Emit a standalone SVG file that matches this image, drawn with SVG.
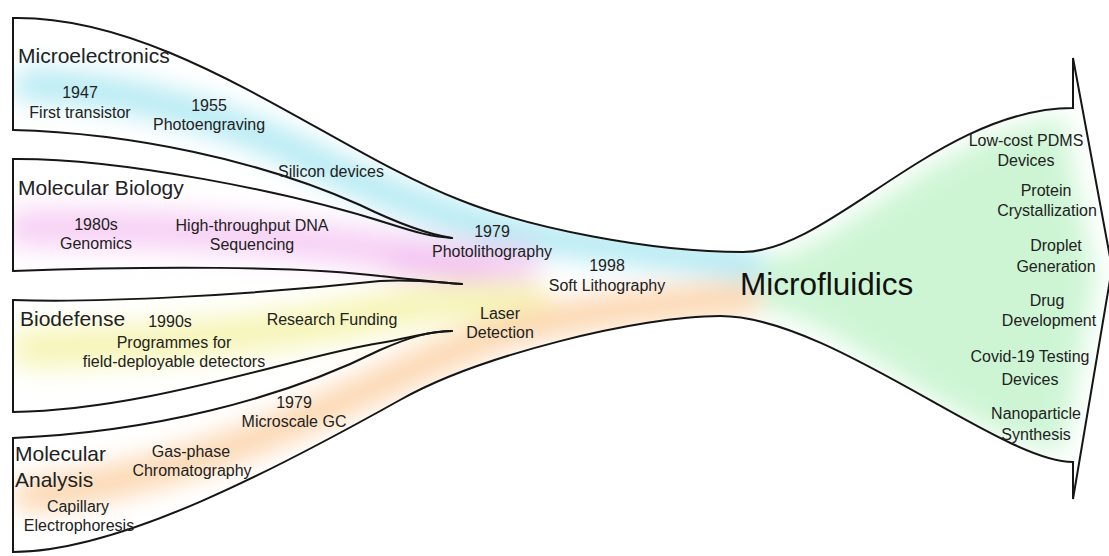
<svg xmlns="http://www.w3.org/2000/svg" width="1109" height="556" viewBox="0 0 1109 556">
<style>
  .ln{fill:none;stroke:#161616;stroke-width:2;stroke-linejoin:miter;stroke-linecap:round}
  text{font-family:"Liberation Sans",Arial,sans-serif;fill:#222}
  .t{font-size:21px}
  .s{font-size:16px;text-anchor:middle}
  .big{font-size:31.5px;fill:#111}
</style>
<defs>
  <filter id="blur" filterUnits="userSpaceOnUse" x="0" y="0" width="1109" height="556">
    <feGaussianBlur stdDeviation="13"/>
  </filter>
  <clipPath id="outer">
    <path d="M13,18 C170,15 330,150 460,200 C530,228 650,252 743,252 C830,252 940,108 1073,108 L1073,58 L1112,268 L1073,499 L1073,462 C1000,462 830,316 720,316 C640,316 480,355 400,400 C280,467 120,552 13,552 Z"/>
  </clipPath>
</defs>
<rect width="1109" height="556" fill="#ffffff"/>
<g id="colours" clip-path="url(#outer)">
  <g filter="url(#blur)" fill="none" stroke-linecap="round">
    <path d="M770,268 C850,255 930,150 1055,128 L1085,280 L1055,440 C950,420 860,320 770,300 Z" fill="#cdf5d4" stroke="#cdf5d4" stroke-width="20"/>
    <path d="M30,85 C120,88 230,115 330,168 C400,200 470,228 560,240 C620,248 680,254 750,265" stroke="#b4eaf3" stroke-width="32"/>
    <path d="M25,228 C150,226 300,236 400,254 C440,260 470,264 520,264" stroke="#f7d0f5" stroke-width="38"/>
    <path d="M400,262 C430,264 455,268 480,270" stroke="#f2bff1" stroke-width="24"/>
    <path d="M30,348 C150,346 300,332 400,308 C440,299 480,300 530,302" stroke="#f6f5b8" stroke-width="40"/>
    <path d="M30,495 C120,486 220,455 300,420 C380,385 440,352 520,328 C600,308 680,302 745,298" stroke="#fcd6ae" stroke-width="32"/>
  </g>
</g>
<g id="connectors">
  <path class="ln" d="M13,130 C130,133 260,160 360,205 C395,222 425,234 452,238"/>
  <path class="ln" d="M13,159 C120,158 290,192 390,224 C415,232 432,237 452,238"/>
  <path class="ln" d="M13,271 C150,266 300,266 380,276 C420,280 440,283 462,284"/>
  <path class="ln" d="M13,300 C100,303 250,295 380,281 C420,279 440,283 462,284"/>
  <path class="ln" d="M13,412 C150,410 300,355 380,343 C410,338 430,331 452,331"/>
  <path class="ln" d="M13,438 C150,432 280,400 380,350 C410,337 430,331 452,331"/>
</g>
<g id="microfluidics">
  <path class="ln" d="M13,130 L13,18 C170,15 330,150 460,200 C530,228 650,252 743,252 C830,252 940,108 1073,108 L1073,58 L1112,268 L1073,499 L1073,462 C1000,462 830,316 720,316 C640,316 480,355 400,400 C280,467 120,552 13,552 L13,438"/>
  <text class="big" x="740" y="295">Microfluidics</text>
  <text class="s" x="1026" y="146">Low-cost PDMS</text>
  <text class="s" x="1026" y="166">Devices</text>
  <text class="s" x="1046" y="196">Protein</text>
  <text class="s" x="1047" y="216">Crystallization</text>
  <text class="s" x="1056" y="251">Droplet</text>
  <text class="s" x="1056" y="272">Generation</text>
  <text class="s" x="1047" y="306">Drug</text>
  <text class="s" x="1049" y="326">Development</text>
  <text class="s" x="1030" y="362">Covid-19 Testing</text>
  <text class="s" x="1030" y="385">Devices</text>
  <text class="s" x="1036" y="419">Nanoparticle</text>
  <text class="s" x="1036" y="440">Synthesis</text>
</g>
<g id="channel">
  <text class="s" x="492" y="237">1979</text>
  <text class="s" x="492" y="257">Photolithography</text>
  <text class="s" x="607" y="271">1998</text>
  <text class="s" x="607" y="291">Soft Lithography</text>
  <text class="s" x="500" y="319">Laser</text>
  <text class="s" x="500" y="338">Detection</text>
</g>
<g id="microelectronics">
  <text class="t" x="18" y="63">Microelectronics</text>
  <text class="s" x="80" y="98">1947</text>
  <text class="s" x="80" y="118">First transistor</text>
  <text class="s" x="209" y="111">1955</text>
  <text class="s" x="209" y="130">Photoengraving</text>
  <text class="s" x="331" y="177">Silicon devices</text>
</g>
<g id="molecular-biology">
  <path class="ln" d="M13,159 L13,271"/>
  <text class="t" x="18" y="195">Molecular Biology</text>
  <text class="s" x="96" y="230">1980s</text>
  <text class="s" x="96" y="249">Genomics</text>
  <text class="s" x="252" y="231">High-throughput DNA</text>
  <text class="s" x="252" y="250">Sequencing</text>
</g>
<g id="biodefense">
  <path class="ln" d="M13,300 L13,412"/>
  <text class="t" x="20" y="326">Biodefense</text>
  <text class="s" x="170" y="327">1990s</text>
  <text class="s" x="174" y="348">Programmes for</text>
  <text class="s" x="174" y="367">field-deployable detectors</text>
  <text class="s" x="332" y="325">Research Funding</text>
</g>
<g id="molecular-analysis">
  <text class="t" x="15" y="461">Molecular</text>
  <text class="t" x="15" y="487">Analysis</text>
  <text class="s" x="191" y="457">Gas-phase</text>
  <text class="s" x="192" y="476">Chromatography</text>
  <text class="s" x="78" y="512">Capillary</text>
  <text class="s" x="79" y="531">Electrophoresis</text>
  <text class="s" x="294" y="408">1979</text>
  <text class="s" x="294" y="427">Microscale GC</text>
</g>
</svg>
